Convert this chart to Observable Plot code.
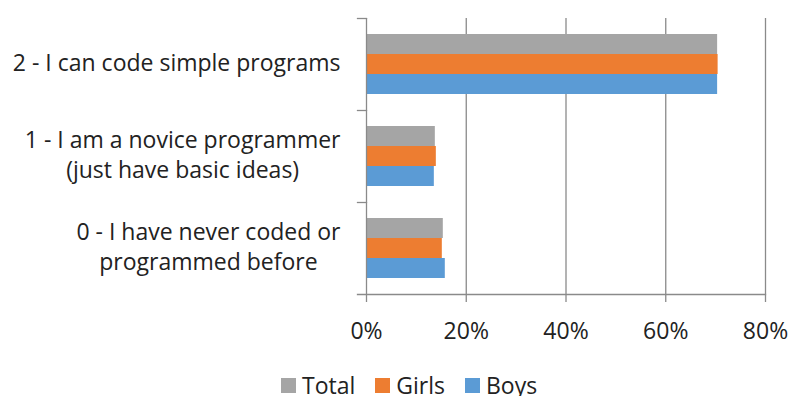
<!DOCTYPE html>
<html>
<head>
<meta charset="utf-8">
<script src="https://cdn.jsdelivr.net/npm/d3@7"></script>
<script src="https://cdn.jsdelivr.net/npm/@observablehq/plot@0.6"></script>
<style>
  body { margin: 0; background: #fff; font-family: "Open Sans", sans-serif; }
  #legend { height: 24px; padding-top: 9px; display: flex; align-items: center; padding-left: 281px; font-size: 23px; color: #222; }
  .item { display: flex; align-items: center; margin-right: 20px; }
  .sw { width: 15px; height: 15px; margin-right: 6px; }
</style>
</head>
<body>
<div id="chart"></div>
<div id="legend"></div>
<script>
const categories = [
  "2 - I can code simple programs",
  "1 - I am a novice programmer\n(just have basic ideas)",
  "0 - I have never coded or\nprogrammed before"
];
const series = ["Total", "Girls", "Boys"];
const totalValues = [0.704, 0.138, 0.154];
const girlsValues = [0.705, 0.140, 0.152];
const boysValues = [0.704, 0.136, 0.158];
const colors = ["#A5A5A5", "#ED7D31", "#5B9BD5"];
const xTicks = [0, 0.2, 0.4, 0.6, 0.8];

const seriesValues = [totalValues, girlsValues, boysValues];
const rows = [];
categories.forEach((c, i) => series.forEach((s, j) => rows.push({category: c, series: s, value: seriesValues[j][i]})));

const axisColor = "#8a8a8a";
const chart = Plot.plot({
  width: 790, height: 364,
  marginLeft: 366, marginRight: 25, marginTop: 17, marginBottom: 70,
  style: {fontFamily: "Open Sans", fontSize: "23px", color: "#222", background: "white"},
  x: {domain: [0, 0.8], ticks: xTicks, tickFormat: d3.format(".0%")},
  y: {domain: series, paddingInner: 0, paddingOuter: 0.75, axis: null},
  fy: {domain: categories, padding: 0},
  color: {domain: series, range: colors},
  marks: [
    Plot.gridX(xTicks.slice(1), {stroke: axisColor, strokeOpacity: 1, strokeWidth: 1.3}),
    Plot.barX(rows, {x: "value", y: "series", fy: "category", fill: "series"}),
    Plot.ruleX([0], {stroke: axisColor, strokeWidth: 1.3}),
    Plot.frame({anchor: "top", insetLeft: -9, insetRight: 399, stroke: axisColor, strokeWidth: 1.3}),
    Plot.frame({anchor: "bottom", insetLeft: -9, facetAnchor: "bottom", stroke: axisColor, strokeWidth: 1.3}),
    Plot.axisX({ticks: xTicks, tickFormat: d3.format(".0%"), tickSize: 8, tickPadding: 20, stroke: axisColor, strokeWidth: 1.3, fontSize: 23, label: null}),
    Plot.axisFy({anchor: "left", tickSize: 0, tickPadding: 26, lineHeight: 1.3, dy: -3, fontSize: 23, label: null})
  ]
});
document.getElementById("chart").append(chart);

// center the lines of each multi-line category label against each other
chart.querySelectorAll('g[aria-label="fy-axis tick label"] text').forEach(t => {
  const spans = t.querySelectorAll("tspan");
  if (spans.length) {
    const w = Math.max(...Array.from(spans, s => s.getComputedTextLength()));
    t.setAttribute("text-anchor", "middle");
    spans.forEach(s => s.setAttribute("x", -w / 2));
  }
});

const legend = document.getElementById("legend");
series.forEach((s, i) => {
  const item = document.createElement("div");
  item.className = "item";
  item.innerHTML = `<div class="sw" style="background:${colors[i]}"></div><span>${s}</span>`;
  legend.append(item);
});
</script>
</body>
</html>
